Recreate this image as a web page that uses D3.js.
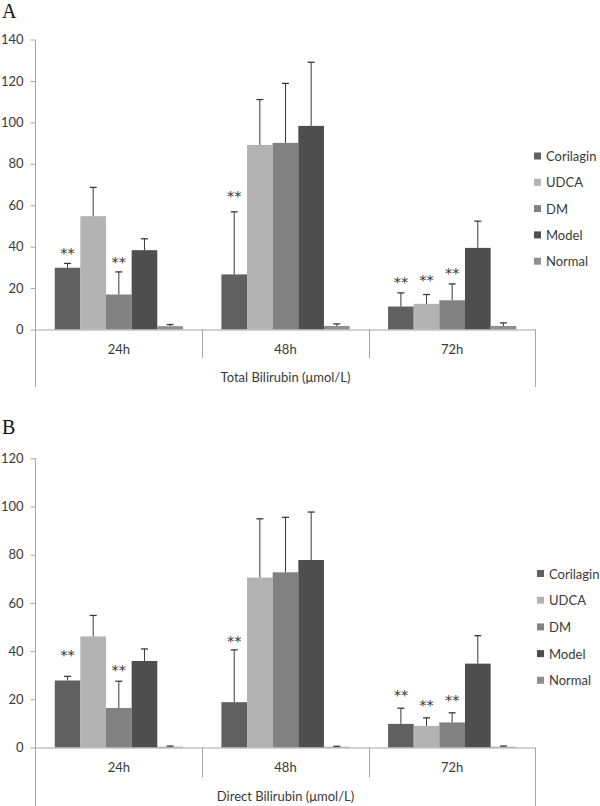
<!DOCTYPE html>
<html>
<head>
<meta charset="utf-8">
<script src="https://cdn.jsdelivr.net/npm/d3@7"></script>
<style>
  body { margin: 0; background: #fff; }
  svg { display: block; }
  text { font-family: Lato, "Open Sans", sans-serif; fill: #3a3a3a; }
</style>
</head>
<body>
<svg id="chart" width="600" height="806"></svg>
<script>
// ---------- data ----------
const categories = ["24h", "48h", "72h"];
const seriesNames = ["Corilagin", "UDCA", "DM", "Model", "Normal"];
const seriesColors = ["#606060", "#b3b3b3", "#818181", "#4e4e4e", "#8f8f8f"];

// Panel A: Total Bilirubin (μmol/L) — means and upper error (SD) per time point, order = seriesNames
const tbMean24h = [29.8, 54.7, 16.9, 38.3, 1.6];
const tbErr24h  = [2.1, 13.9, 10.9, 5.5, 0.8];
const tbMean48h = [26.6, 89.1, 90.1, 98.3, 1.7];
const tbErr48h  = [30.2, 21.9, 28.7, 30.7, 1.0];
const tbMean72h = [11.1, 12.4, 14.1, 39.4, 1.7];
const tbErr72h  = [6.6, 4.5, 7.9, 12.9, 1.5];
const tbTicks = [0, 20, 40, 60, 80, 100, 120, 140];
// significance markers: [category, series, y-value of marker centre]
const tbStars = [["24h", "Corilagin", 39.2], ["24h", "DM", 34.9], ["48h", "Corilagin", 66.8],
                 ["72h", "Corilagin", 25.1], ["72h", "UDCA", 26.2], ["72h", "DM", 29.3]];

// Panel B: Direct Bilirubin (μmol/L)
const dbMean24h = [27.8, 46.1, 16.4, 35.9, 0.3];
const dbErr24h  = [1.7, 8.7, 11.1, 5.0, 0.3];
const dbMean48h = [18.8, 70.5, 72.7, 77.8, 0.3];
const dbErr48h  = [21.7, 24.4, 22.8, 19.9, 0.2];
const dbMean72h = [9.8, 9.0, 10.4, 34.8, 0.3];
const dbErr72h  = [6.5, 3.3, 4.0, 11.6, 0.3];
const dbTicks = [0, 20, 40, 60, 80, 100, 120];
const dbStars = [["24h", "Corilagin", 40.4], ["24h", "DM", 34.2], ["48h", "Corilagin", 45.9],
                 ["72h", "Corilagin", 23.8], ["72h", "UDCA", 19.3], ["72h", "DM", 21.4]];

// ---------- drawing ----------
const svg = d3.select("#chart");

function rows(means, errs) {
  return seriesNames.map((s, i) => ({ series: s, mean: means[i], err: errs[i], color: seriesColors[i] }));
}

function panel(cfg) {
  const g = svg.append("g");
  const x0 = d3.scaleBand().domain(categories).range([35.5, 535.5]).paddingInner(0).paddingOuter(0);
  const x1 = d3.scaleBand().domain(seriesNames).range([0, x0.bandwidth()]).paddingInner(0).paddingOuter(0.75);
  const y = d3.scaleLinear().domain([0, cfg.max]).range([cfg.y0, cfg.yTop]);
  const axisColor = "#a6a6a6";

  // panel letter
  g.append("text").attr("x", 2).attr("y", cfg.letterY).text(cfg.letter)
    .style("font-family", "'Liberation Serif', 'DejaVu Serif', serif").style("font-size", "20px").style("fill", "#111");

  // y axis
  const yAxis = g.append("g").attr("transform", `translate(35.5,0)`)
    .call(d3.axisLeft(y).tickValues(cfg.ticks).tickSize(5).tickPadding(7).tickFormat(d3.format("d")));
  yAxis.select(".domain").remove();
  yAxis.selectAll(".tick line").attr("stroke", axisColor);
  yAxis.selectAll(".tick text").style("font-family", "Lato, sans-serif").style("font-size", "13px").attr("fill", "#333");
  g.append("line").attr("x1", 35.5).attr("x2", 35.5).attr("y1", y(cfg.max)).attr("y2", cfg.leftBottom)
    .attr("stroke", axisColor);

  // bars
  const groups = g.selectAll(".grp").data(categories).enter().append("g")
    .attr("transform", d => `translate(${x0(d)},0)`);
  groups.each(function (cat, ci) {
    const data = rows(cfg.means[ci], cfg.errs[ci]);
    const gg = d3.select(this);
    gg.selectAll("rect").data(data).enter().append("rect")
      .attr("x", d => x1(d.series)).attr("width", x1.bandwidth())
      .attr("y", d => y(d.mean)).attr("height", d => y(0) - y(d.mean))
      .attr("fill", d => d.color);
    // error bars (upper only)
    const eb = gg.selectAll(".eb").data(data).enter().append("g");
    eb.append("line")
      .attr("x1", d => x1(d.series) + x1.bandwidth() / 2).attr("x2", d => x1(d.series) + x1.bandwidth() / 2)
      .attr("y1", d => y(d.mean)).attr("y2", d => y(d.mean + d.err))
      .attr("stroke", "#3a3a3a").attr("stroke-width", 1);
    eb.append("line")
      .attr("x1", d => x1(d.series) + x1.bandwidth() / 2 - 3.5).attr("x2", d => x1(d.series) + x1.bandwidth() / 2 + 3.5)
      .attr("y1", d => y(d.mean + d.err)).attr("y2", d => y(d.mean + d.err))
      .attr("stroke", "#3a3a3a").attr("stroke-width", 1.3);
  });

  // x axis line + separators
  g.append("line").attr("x1", 35.5).attr("x2", 535.5).attr("y1", y(0) + 0.5).attr("y2", y(0) + 0.5).attr("stroke", axisColor);
  categories.slice(1).forEach(c => {
    g.append("line").attr("x1", Math.round(x0(c)) + 0.5).attr("x2", Math.round(x0(c)) + 0.5)
      .attr("y1", y(0)).attr("y2", cfg.sepBottom).attr("stroke", axisColor);
  });
  g.append("line").attr("x1", 535.5).attr("x2", 535.5).attr("y1", y(0)).attr("y2", cfg.leftBottom).attr("stroke", axisColor);

  // category labels
  g.selectAll(".cat").data(categories).enter().append("text")
    .attr("x", d => x0(d) + x0.bandwidth() / 2).attr("y", cfg.catY)
    .attr("text-anchor", "middle").attr("dominant-baseline", "central")
    .style("font-size", "13px").text(d => d);
  g.append("text").attr("x", 285.5).attr("y", cfg.titleY)
    .attr("text-anchor", "middle").attr("dominant-baseline", "central")
    .style("font-size", "13px").text(cfg.title);

  // stars
  g.selectAll(".star").data(cfg.stars).enter().append("text")
    .attr("x", d => x0(d[0]) + x1(d[1]) + x1.bandwidth() / 2)
    .attr("y", d => y(d[2]) + 9.5)
    .attr("text-anchor", "middle")
    .style("font-family", "'DejaVu Sans', sans-serif").style("font-size", "14.5px").style("fill", "#333")
    .text("**");

  // legend
  const lg = g.append("g");
  seriesNames.forEach((s, i) => {
    const ly = cfg.legendY + i * cfg.legendStep;
    lg.append("rect").attr("x", cfg.legendX).attr("y", ly - 3.5).attr("width", 7).attr("height", 7).attr("fill", seriesColors[i]);
    lg.append("text").attr("x", cfg.legendX + 12).attr("y", ly).attr("dominant-baseline", "central")
      .style("font-size", "13px").text(s);
  });
}

panel({
  letter: "A", letterY: 18, max: 140, y0: 329.5, yTop: 39.5, ticks: tbTicks,
  means: [tbMean24h, tbMean48h, tbMean72h], errs: [tbErr24h, tbErr48h, tbErr72h],
  stars: tbStars, leftBottom: 387, sepBottom: 358, catY: 349, titleY: 377,
  title: "Total Bilirubin (μmol/L)", legendX: 534, legendY: 156, legendStep: 26.3
});
panel({
  letter: "B", letterY: 434, max: 120, y0: 747.5, yTop: 458.3, ticks: dbTicks,
  means: [dbMean24h, dbMean48h, dbMean72h], errs: [dbErr24h, dbErr48h, dbErr72h],
  stars: dbStars, leftBottom: 806, sepBottom: 777, catY: 767, titleY: 796,
  title: "Direct Bilirubin  (μmol/L)", legendX: 537, legendY: 573.5, legendStep: 26.7
});
</script>
</body>
</html>
